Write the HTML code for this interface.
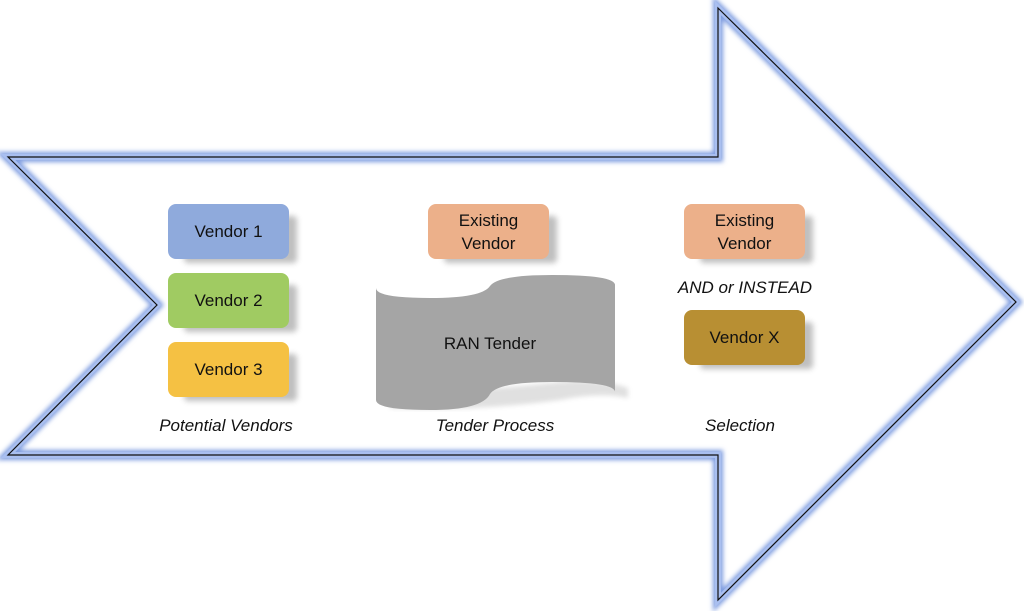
<!DOCTYPE html>
<html><head><style>
body{margin:0;width:1024px;height:611px;background:#fff;overflow:hidden;position:relative;font-family:"Liberation Sans",sans-serif}
.b{position:absolute;width:121px;height:55px;border-radius:8px;display:flex;align-items:center;justify-content:center;text-align:center;font-size:17px;line-height:23px;color:#111;box-shadow:12px 8px 6px -4px rgba(0,0,0,0.25)}
.l{position:absolute;font-style:italic;font-size:17px;color:#111;text-align:center}
</style></head><body>
<svg width="1024" height="611" style="position:absolute;left:0;top:0">
<defs><filter id="g" x="-10%" y="-10%" width="120%" height="120%"><feGaussianBlur stdDeviation="2.5"/></filter></defs>
<polygon points="8,157 718,157 718,8 1016,302 718,600 718,455 8,455 157,305" fill="none" stroke="#7f9de0" stroke-width="10" filter="url(#g)" stroke-linejoin="miter"/>
<polygon points="8,157 718,157 718,8 1016,302 718,600 718,455 8,455 157,305" fill="none" stroke="#a9bff0" stroke-width="6"/>
<polygon points="8,157 718,157 718,8 1016,302 718,600 718,455 8,455 157,305" fill="none" stroke="#111" stroke-width="1.2"/>
<path d="M390,392 Q470,392 560,382 Q600,378 628,388 L628,398 Q600,392 560,400 Q470,412 390,408Z" fill="rgba(0,0,0,0.12)" filter="url(#g)"/>
<path d="M376,288 Q376,298 430,298 Q482,298 490,286 Q498,275 552,275 Q615,275 615,285 L615,392 Q615,382 552,382 Q498,382 490,394 Q482,410 430,410 Q376,410 376,400Z" fill="#a5a5a5"/>
<text x="490" y="349" font-size="17" text-anchor="middle" fill="#111" font-family="Liberation Sans,sans-serif">RAN Tender</text>
</svg>
<div class="b" style="left:168px;top:204px;background:#8faadc">Vendor 1</div>
<div class="b" style="left:168px;top:273px;background:#a0cb62">Vendor 2</div>
<div class="b" style="left:168px;top:342px;background:#f5c143">Vendor 3</div>
<div class="b" style="left:428px;top:204px;background:#ecb08a">Existing<br>Vendor</div>
<div class="b" style="left:684px;top:204px;background:#ecb08a">Existing<br>Vendor</div>
<div class="b" style="left:684px;top:310px;background:#b88f33">Vendor X</div>
<div class="l" style="left:128px;top:416px;width:196px">Potential Vendors</div>
<div class="l" style="left:400px;top:416px;width:190px">Tender Process</div>
<div class="l" style="left:650px;top:416px;width:180px">Selection</div>
<div class="l" style="left:650px;top:278px;width:190px">AND or INSTEAD</div>
</body></html>
